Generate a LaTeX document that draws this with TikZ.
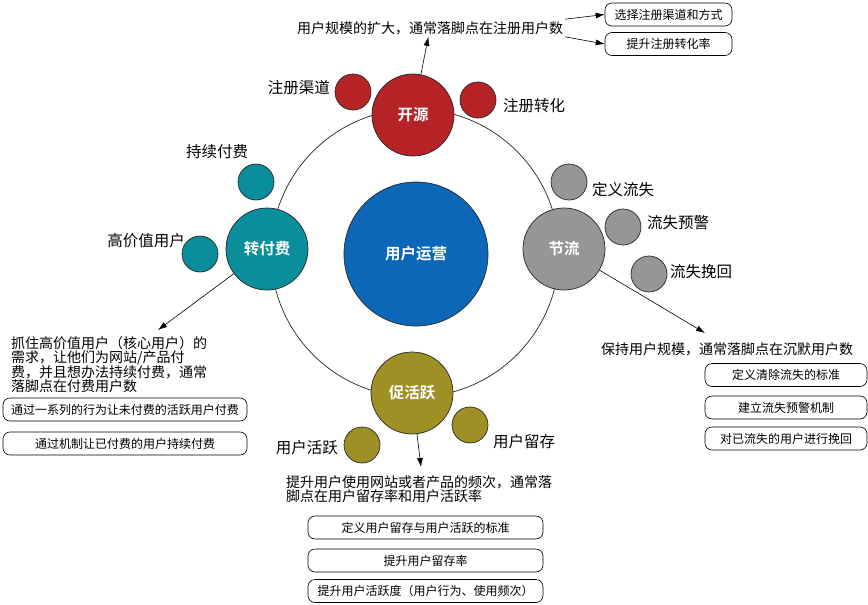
\documentclass[tikz,border=0pt]{standalone}
\usepackage{fontspec}
\setmainfont{Noto Sans CJK SC}[BoldFont={Noto Sans CJK SC Bold}]
\usetikzlibrary{arrows.meta}
\definecolor{kyred}{HTML}{B52327}
\definecolor{zffteal}{HTML}{0A8E9B}
\definecolor{jlgray}{HTML}{969696}
\definecolor{chyolive}{HTML}{9F9026}
\definecolor{yyblue}{HTML}{0C67B8}
\tikzset{
  arr/.style={-{Latex[length=9pt,width=6pt]}, line width=0.6pt},
  bigc/.style={circle, draw=black!85, line width=0.7pt, minimum size=82pt, inner sep=0pt,
    text=white, font=\fontsize{15.5}{18}\selectfont\bfseries},
  smallc/.style={circle, draw=black!85, line width=0.7pt, minimum size=36pt, inner sep=0pt},
  lbl/.style={font=\fontsize{15.5}{18}\selectfont, inner sep=1pt},
  note/.style={font=\fontsize{14}{14.5}\selectfont, align=left, inner sep=2pt},
  box/.style={draw, rounded corners=7pt, line width=0.6pt, minimum height=23pt, inner sep=0pt,
    font=\fontsize{12}{14}\selectfont}
}
\begin{document}
\begin{tikzpicture}[x=1pt, y=-1pt]
    \useasboundingbox (0,0) rectangle (868,605);
    \node[circle, draw=black!85, line width=0.7pt, minimum size=288pt] (ring) at (415,253) {};
    \node[bigc, fill=yyblue, minimum size=144pt] (yy) at (416,254) {用户运营};
    \node[bigc, fill=kyred] (ky) at (413,115) {开源};
    \node[bigc, fill=zffteal] (zff) at (267,249) {转付费};
    \node[bigc, fill=jlgray] (jl) at (564,249) {节流};
    \node[bigc, fill=chyolive] (chy) at (412,393) {促活跃};
    \node[smallc, fill=kyred] (zcqd) at (353,92) {};
    \node[smallc, fill=kyred] (zczh) at (478,100) {};
    \node[smallc, fill=zffteal] (cxff) at (256,182) {};
    \node[smallc, fill=zffteal] (gjz) at (200,254) {};
    \node[smallc, fill=jlgray] (dyls) at (569,182) {};
    \node[smallc, fill=jlgray] (lsyj) at (623,227) {};
    \node[smallc, fill=jlgray] (lswh) at (649,274) {};
    \node[smallc, fill=chyolive] (yhhy) at (362,445) {};
    \node[smallc, fill=chyolive] (yhlc) at (470,425) {};
    \node[lbl, anchor=east] (zcqdt) at (331,88) {注册渠道};
    \node[lbl, anchor=west] (zczht) at (502,106) {注册转化};
    \node[lbl] (cxfft) at (217,152) {持续付费};
    \node[lbl, anchor=east] (gjzt) at (186,241) {高价值用户};
    \node[lbl, anchor=west] (dylst) at (591,190) {定义流失};
    \node[lbl, anchor=west] (lsyjt) at (646,223) {流失预警};
    \node[lbl, anchor=west] (lswht) at (669,272) {流失挽回};
    \node[lbl, anchor=east] (yhhyt) at (339,448) {用户活跃};
    \node[lbl, anchor=west] (yhlct) at (492,442) {用户留存};
    \node[note] (kyt) at (430,28) {用户规模的扩大，通常落脚点在注册用户数};
    \node[note, anchor=north west] (zfft) at (9,334)
      {抓住高价值用户（核心用户）的\\需求，让他们为网站/产品付\\费，并且想办法持续付费，通常\\落脚点在付费用户数};
    \node[note] (jlt) at (727,349) {保持用户规模，通常落脚点在沉默用户数};
    \node[note, anchor=north west] (chyt) at (284,473)
      {提升用户使用网站或者产品的频次，通常落\\脚点在用户留存率和用户活跃率};
    \coordinate (zffa) at (158,330);
    \coordinate (jla) at (705,333);
    \coordinate (chya) at (421,467);
    \node[box, minimum width=127pt] (kyb1) at (668.5,14.5) {选择注册渠道和方式};
    \node[box, minimum width=127pt] (kyb2) at (668.5,44) {提升注册转化率};
    \node[box, minimum width=244pt] (zffb1) at (125,409.5) {通过一系列的行为让未付费的活跃用户付费};
    \node[box, minimum width=244pt] (zffb2) at (125,443.5) {通过机制让已付费的用户持续付费};
    \node[box, minimum width=162pt] (jlb1) at (786,375) {定义清除流失的标准};
    \node[box, minimum width=162pt] (jlb2) at (786,407.5) {建立流失预警机制};
    \node[box, minimum width=162pt] (jlb3) at (786,438.5) {对已流失的用户进行挽回};
    \node[box, minimum width=235pt] (chyb1) at (425.5,527.5) {定义用户留存与用户活跃的标准};
    \node[box, minimum width=235pt] (chyb2) at (425.5,560.5) {提升用户留存率};
    \node[box, minimum width=235pt] (chyb3) at (425.5,591) {提升用户活跃度（用户行为、使用频次）};
    \draw[arr] (ky) -- (kyt);
    \draw[arr] (kyt.north east) -- (kyb1.west);
    \draw[arr] (kyt.south east) -- (kyb2.west);
    \draw[arr] (zff) -- (zffa);
    \draw[arr] (jl) -- (jla);
    \draw[arr] (chy) -- (chya);
  \end{tikzpicture}
\end{document}
